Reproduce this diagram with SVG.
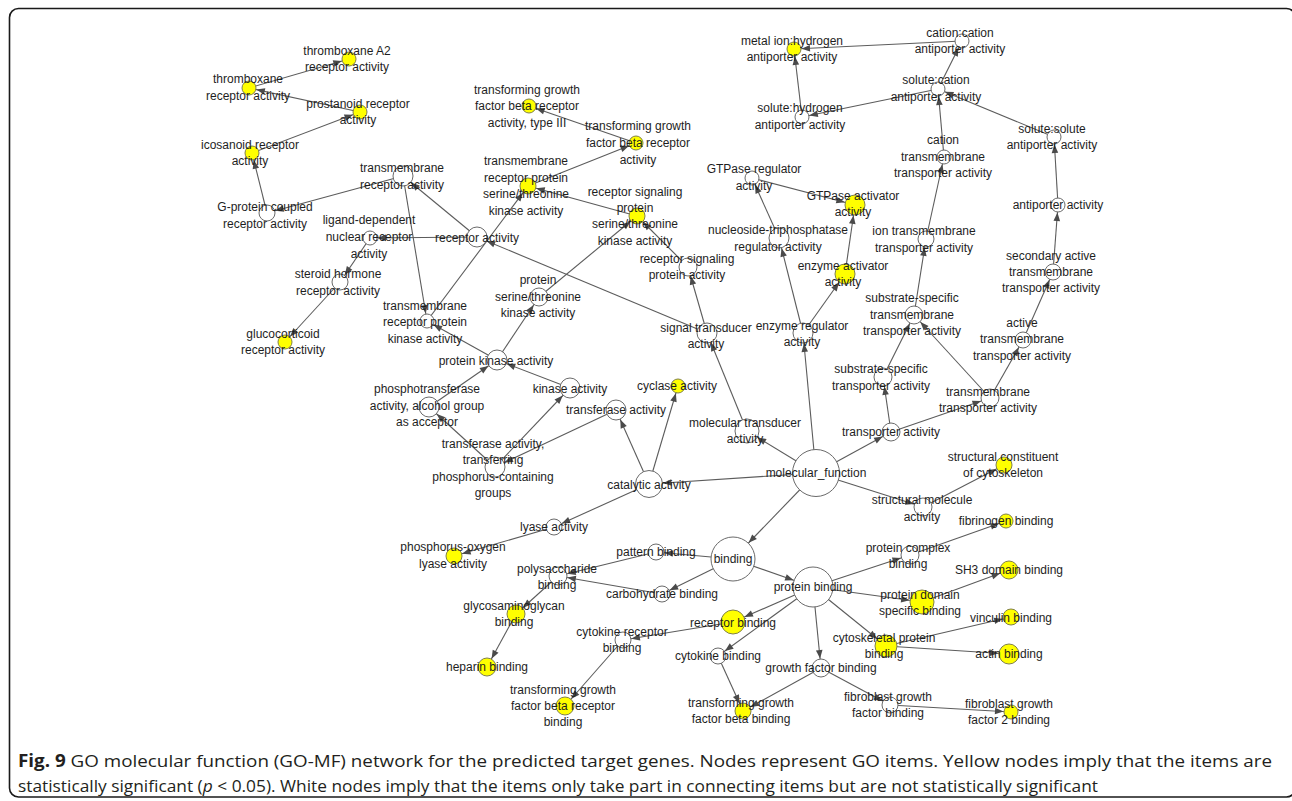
<svg xmlns="http://www.w3.org/2000/svg" xmlns:xlink="http://www.w3.org/1999/xlink" width="1292" height="801" viewBox="0 0 1292 801">
<style>
.e{stroke:#5c5c5c;stroke-width:1.1;fill:none}
.w{fill:#ffffff;stroke:#6a6a6a;stroke-width:1}
.y{fill:#ffff00;stroke:#80804a;stroke-width:1}
.t{font-family:"Liberation Sans",Arial,sans-serif;font-size:12px;fill:#1e1e1e;text-anchor:middle}
.ah{fill:#4a4a4a;stroke:none}
.cap{font-family:"Open Sans","Liberation Sans",sans-serif;font-size:17px;fill:#231f20}
</style>
<defs>
<path id="ah" class="ah" d="M0,0 L-8.5,-3.3 L-8.5,3.3 Z"/>
<marker id="m7" markerUnits="userSpaceOnUse" orient="auto" refX="7.5" refY="0" markerWidth="20" markerHeight="20" overflow="visible"><use xlink:href="#ah"/></marker>
<marker id="m8" markerUnits="userSpaceOnUse" orient="auto" refX="8.5" refY="0" markerWidth="20" markerHeight="20" overflow="visible"><use xlink:href="#ah"/></marker>
<marker id="m9" markerUnits="userSpaceOnUse" orient="auto" refX="9.5" refY="0" markerWidth="20" markerHeight="20" overflow="visible"><use xlink:href="#ah"/></marker>
<marker id="m10" markerUnits="userSpaceOnUse" orient="auto" refX="10.5" refY="0" markerWidth="20" markerHeight="20" overflow="visible"><use xlink:href="#ah"/></marker>
<marker id="m11" markerUnits="userSpaceOnUse" orient="auto" refX="11.5" refY="0" markerWidth="20" markerHeight="20" overflow="visible"><use xlink:href="#ah"/></marker>
<marker id="m12" markerUnits="userSpaceOnUse" orient="auto" refX="12.5" refY="0" markerWidth="20" markerHeight="20" overflow="visible"><use xlink:href="#ah"/></marker>
<marker id="m14" markerUnits="userSpaceOnUse" orient="auto" refX="14" refY="0" markerWidth="20" markerHeight="20" overflow="visible"><use xlink:href="#ah"/></marker>
<marker id="m20" markerUnits="userSpaceOnUse" orient="auto" refX="20.5" refY="0" markerWidth="20" markerHeight="20" overflow="visible"><use xlink:href="#ah"/></marker>
<marker id="m22" markerUnits="userSpaceOnUse" orient="auto" refX="22.5" refY="0" markerWidth="20" markerHeight="20" overflow="visible"><use xlink:href="#ah"/></marker>
</defs>
<rect x="9.5" y="8.5" width="1286" height="788.5" rx="9" fill="none" stroke="#1a1a1a" stroke-width="1.6"/>
<g id="connectors" class="e">
<line x1="249" y1="88" x2="349" y2="59" marker-end="url(#m7)"/>
<line x1="360" y1="112" x2="249" y2="88" marker-end="url(#m7)"/>
<line x1="252" y1="153" x2="360" y2="112" marker-end="url(#m7)"/>
<line x1="267" y1="213" x2="252" y2="153" marker-end="url(#m7)"/>
<line x1="403" y1="176" x2="267" y2="213" marker-end="url(#m8)"/>
<line x1="477" y1="237" x2="403" y2="176" marker-end="url(#m10)"/>
<line x1="477" y1="237" x2="370" y2="238" marker-end="url(#m7)"/>
<line x1="370" y1="238" x2="340" y2="282" marker-end="url(#m8)"/>
<line x1="340" y1="282" x2="285" y2="342" marker-end="url(#m7)"/>
<line x1="403" y1="176" x2="427" y2="321" marker-end="url(#m7)"/>
<line x1="427" y1="321" x2="528" y2="186" marker-end="url(#m8)"/>
<line x1="528" y1="186" x2="636" y2="143" marker-end="url(#m7)"/>
<line x1="636" y1="143" x2="529" y2="106" marker-end="url(#m7)"/>
<line x1="637" y1="216" x2="528" y2="186" marker-end="url(#m8)"/>
<line x1="539" y1="297" x2="637" y2="216" marker-end="url(#m8)"/>
<line x1="688" y1="267" x2="637" y2="216" marker-end="url(#m8)"/>
<line x1="707" y1="333" x2="688" y2="267" marker-end="url(#m9)"/>
<line x1="707" y1="333" x2="477" y2="237" marker-end="url(#m10)"/>
<line x1="497" y1="360" x2="539" y2="297" marker-end="url(#m9)"/>
<line x1="497" y1="360" x2="427" y2="321" marker-end="url(#m7)"/>
<line x1="429" y1="407" x2="497" y2="360" marker-end="url(#m10)"/>
<line x1="570" y1="388" x2="497" y2="360" marker-end="url(#m10)"/>
<line x1="495" y1="467" x2="429" y2="407" marker-end="url(#m10)"/>
<line x1="495" y1="467" x2="570" y2="388" marker-end="url(#m10)"/>
<line x1="616" y1="410" x2="495" y2="467" marker-end="url(#m10)"/>
<line x1="649" y1="484" x2="616" y2="410" marker-end="url(#m10)"/>
<line x1="649" y1="484" x2="678" y2="386" marker-end="url(#m7)"/>
<line x1="649" y1="484" x2="554" y2="527" marker-end="url(#m8)"/>
<line x1="554" y1="527" x2="454" y2="556" marker-end="url(#m8)"/>
<line x1="816" y1="473" x2="649" y2="484" marker-end="url(#m14)"/>
<line x1="816" y1="473" x2="747" y2="431" marker-end="url(#m12)"/>
<line x1="747" y1="431" x2="707" y2="333" marker-end="url(#m10)"/>
<line x1="816" y1="473" x2="803" y2="333" marker-end="url(#m10)"/>
<line x1="803" y1="333" x2="779" y2="238" marker-end="url(#m10)"/>
<line x1="779" y1="238" x2="752" y2="178" marker-end="url(#m7)"/>
<line x1="752" y1="178" x2="855" y2="205" marker-end="url(#m10)"/>
<line x1="803" y1="333" x2="845" y2="274" marker-end="url(#m10)"/>
<line x1="845" y1="274" x2="855" y2="205" marker-end="url(#m10)"/>
<line x1="816" y1="473" x2="891" y2="432" marker-end="url(#m9)"/>
<line x1="891" y1="432" x2="883" y2="377" marker-end="url(#m9)"/>
<line x1="891" y1="432" x2="990" y2="398" marker-end="url(#m9)"/>
<line x1="883" y1="377" x2="914" y2="315" marker-end="url(#m9)"/>
<line x1="990" y1="398" x2="914" y2="315" marker-end="url(#m9)"/>
<line x1="990" y1="398" x2="1023" y2="340" marker-end="url(#m8)"/>
<line x1="1023" y1="340" x2="1053" y2="272" marker-end="url(#m8)"/>
<line x1="1053" y1="272" x2="1058" y2="205" marker-end="url(#m7)"/>
<line x1="1058" y1="205" x2="1054" y2="137" marker-end="url(#m7)"/>
<line x1="1054" y1="137" x2="938" y2="89" marker-end="url(#m7)"/>
<line x1="914" y1="315" x2="926" y2="239" marker-end="url(#m8)"/>
<line x1="926" y1="239" x2="944" y2="157" marker-end="url(#m7)"/>
<line x1="944" y1="157" x2="938" y2="89" marker-end="url(#m7)"/>
<line x1="938" y1="89" x2="962" y2="41" marker-end="url(#m7)"/>
<line x1="938" y1="89" x2="802" y2="117" marker-end="url(#m7)"/>
<line x1="802" y1="117" x2="794" y2="49" marker-end="url(#m7)"/>
<line x1="962" y1="41" x2="794" y2="49" marker-end="url(#m7)"/>
<line x1="816" y1="473" x2="923" y2="507" marker-end="url(#m9)"/>
<line x1="923" y1="507" x2="1004" y2="465" marker-end="url(#m8)"/>
<line x1="816" y1="473" x2="733" y2="559" marker-end="url(#m22)"/>
<line x1="733" y1="559" x2="813" y2="587" marker-end="url(#m20)"/>
<line x1="733" y1="559" x2="656" y2="552" marker-end="url(#m8)"/>
<line x1="656" y1="552" x2="558" y2="576" marker-end="url(#m9)"/>
<line x1="733" y1="559" x2="662" y2="594" marker-end="url(#m8)"/>
<line x1="662" y1="594" x2="558" y2="576" marker-end="url(#m9)"/>
<line x1="558" y1="576" x2="516" y2="614" marker-end="url(#m9)"/>
<line x1="516" y1="614" x2="487" y2="667" marker-end="url(#m9)"/>
<line x1="813" y1="587" x2="733" y2="622" marker-end="url(#m12)"/>
<line x1="733" y1="622" x2="623" y2="640" marker-end="url(#m8)"/>
<line x1="623" y1="640" x2="565" y2="706" marker-end="url(#m9)"/>
<line x1="813" y1="587" x2="718" y2="656" marker-end="url(#m8)"/>
<line x1="718" y1="656" x2="743" y2="711" marker-end="url(#m8)"/>
<line x1="821" y1="668" x2="743" y2="711" marker-end="url(#m8)"/>
<line x1="813" y1="587" x2="821" y2="668" marker-end="url(#m9)"/>
<line x1="821" y1="668" x2="890" y2="705" marker-end="url(#m8)"/>
<line x1="890" y1="705" x2="1011" y2="712" marker-end="url(#m7)"/>
<line x1="813" y1="587" x2="910" y2="555" marker-end="url(#m9)"/>
<line x1="910" y1="555" x2="1006" y2="521" marker-end="url(#m7)"/>
<line x1="813" y1="587" x2="922" y2="602" marker-end="url(#m12)"/>
<line x1="922" y1="602" x2="1009" y2="570" marker-end="url(#m9)"/>
<line x1="813" y1="587" x2="886" y2="646" marker-end="url(#m11)"/>
<line x1="886" y1="646" x2="1011" y2="617" marker-end="url(#m8)"/>
<line x1="886" y1="646" x2="1009" y2="654" marker-end="url(#m10)"/>
</g>
<g id="n-thromboxane-a2"><circle class="y" cx="349" cy="59" r="7"/><text class="t"><tspan x="347" y="55">thromboxane A2</tspan><tspan x="347" y="71">receptor activity</tspan></text></g>
<g id="n-thromboxane"><circle class="y" cx="249" cy="88" r="7"/><text class="t"><tspan x="248" y="83">thromboxane</tspan><tspan x="248" y="100">receptor activity</tspan></text></g>
<g id="n-prostanoid"><circle class="y" cx="360" cy="112" r="7"/><text class="t"><tspan x="358" y="108">prostanoid receptor</tspan><tspan x="358" y="124">activity</tspan></text></g>
<g id="n-icosanoid"><circle class="y" cx="252" cy="153" r="7"/><text class="t"><tspan x="250" y="149">icosanoid receptor</tspan><tspan x="250" y="165">activity</tspan></text></g>
<g id="n-gpcr"><circle class="w" cx="267" cy="213" r="8"/><text class="t"><tspan x="265" y="211">G-protein coupled</tspan><tspan x="265" y="228">receptor activity</tspan></text></g>
<g id="n-tm-receptor"><circle class="w" cx="403" cy="176" r="10"/><text class="t"><tspan x="402" y="172">transmembrane</tspan><tspan x="402" y="189">receptor activity</tspan></text></g>
<g id="n-ligand-nuclear"><circle class="w" cx="370" cy="238" r="7"/><text class="t"><tspan x="369" y="224">ligand-dependent</tspan><tspan x="369" y="241">nuclear receptor</tspan><tspan x="369" y="258">activity</tspan></text></g>
<g id="n-steroid"><circle class="w" cx="340" cy="282" r="8"/><text class="t"><tspan x="338" y="278">steroid hormone</tspan><tspan x="338" y="295">receptor activity</tspan></text></g>
<g id="n-glucocorticoid"><circle class="y" cx="285" cy="342" r="7"/><text class="t"><tspan x="283" y="338">glucocorticoid</tspan><tspan x="283" y="354">receptor activity</tspan></text></g>
<g id="n-receptor"><circle class="w" cx="477" cy="237" r="10"/><text class="t"><tspan x="477" y="242">receptor activity</tspan></text></g>
<g id="n-trpk"><circle class="w" cx="427" cy="321" r="7"/><text class="t"><tspan x="425" y="310">transmembrane</tspan><tspan x="425" y="326">receptor protein</tspan><tspan x="425" y="343">kinase activity</tspan></text></g>
<g id="n-tgfbr3"><circle class="y" cx="529" cy="106" r="7"/><text class="t"><tspan x="527" y="94">transforming growth</tspan><tspan x="527" y="110">factor beta receptor</tspan><tspan x="527" y="127">activity, type III</tspan></text></g>
<g id="n-tgfbr"><circle class="y" cx="636" cy="143" r="7"/><text class="t"><tspan x="638" y="130">transforming growth</tspan><tspan x="638" y="147">factor beta receptor</tspan><tspan x="638" y="164">activity</tspan></text></g>
<g id="n-trpstk"><circle class="y" cx="528" cy="186" r="8"/><text class="t"><tspan x="526" y="165">transmembrane</tspan><tspan x="526" y="182">receptor protein</tspan><tspan x="526" y="198">serine/threonine</tspan><tspan x="526" y="215">kinase activity</tspan></text></g>
<g id="n-rspstk"><circle class="y" cx="637" cy="216" r="8"/><text class="t"><tspan x="635" y="196">receptor signaling</tspan><tspan x="635" y="212">protein</tspan><tspan x="635" y="228">serine/threonine</tspan><tspan x="635" y="245">kinase activity</tspan></text></g>
<g id="n-pstk"><circle class="w" cx="539" cy="297" r="9"/><text class="t"><tspan x="538" y="284">protein</tspan><tspan x="538" y="301">serine/threonine</tspan><tspan x="538" y="317">kinase activity</tspan></text></g>
<g id="n-pka"><circle class="w" cx="497" cy="360" r="10"/><text class="t"><tspan x="496" y="365">protein kinase activity</tspan></text></g>
<g id="n-rspa"><circle class="w" cx="688" cy="267" r="9"/><text class="t"><tspan x="687" y="263">receptor signaling</tspan><tspan x="687" y="279">protein activity</tspan></text></g>
<g id="n-signal-transducer"><circle class="w" cx="707" cy="333" r="10"/><text class="t"><tspan x="706" y="332">signal transducer</tspan><tspan x="706" y="348">activity</tspan></text></g>
<g id="n-gtpase-reg"><circle class="w" cx="752" cy="178" r="7"/><text class="t"><tspan x="754" y="173">GTPase regulator</tspan><tspan x="754" y="190">activity</tspan></text></g>
<g id="n-gtpase-act"><circle class="y" cx="855" cy="205" r="10"/><text class="t"><tspan x="853" y="200">GTPase activator</tspan><tspan x="853" y="216">activity</tspan></text></g>
<g id="n-ntpase-reg"><circle class="w" cx="779" cy="238" r="10"/><text class="t"><tspan x="778" y="234">nucleoside-triphosphatase</tspan><tspan x="778" y="251">regulator activity</tspan></text></g>
<g id="n-enzyme-act"><circle class="y" cx="845" cy="274" r="10"/><text class="t"><tspan x="843" y="270">enzyme activator</tspan><tspan x="843" y="286">activity</tspan></text></g>
<g id="n-enzyme-reg"><circle class="w" cx="803" cy="333" r="10"/><text class="t"><tspan x="802" y="330">enzyme regulator</tspan><tspan x="802" y="346">activity</tspan></text></g>
<g id="n-metal-h"><circle class="y" cx="794" cy="49" r="7"/><text class="t"><tspan x="792" y="45">metal ion:hydrogen</tspan><tspan x="792" y="61">antiporter activity</tspan></text></g>
<g id="n-cation-cation"><circle class="w" cx="962" cy="41" r="7"/><text class="t"><tspan x="960" y="37">cation:cation</tspan><tspan x="960" y="53">antiporter activity</tspan></text></g>
<g id="n-solute-cation"><circle class="w" cx="938" cy="89" r="7"/><text class="t"><tspan x="936" y="84">solute:cation</tspan><tspan x="936" y="101">antiporter activity</tspan></text></g>
<g id="n-solute-h"><circle class="w" cx="802" cy="117" r="7"/><text class="t"><tspan x="800" y="112">solute:hydrogen</tspan><tspan x="800" y="129">antiporter activity</tspan></text></g>
<g id="n-solute-solute"><circle class="w" cx="1054" cy="137" r="7"/><text class="t"><tspan x="1052" y="133">solute:solute</tspan><tspan x="1052" y="149">antiporter activity</tspan></text></g>
<g id="n-cation-tt"><circle class="w" cx="944" cy="157" r="7"/><text class="t"><tspan x="943" y="144">cation</tspan><tspan x="943" y="161">transmembrane</tspan><tspan x="943" y="177">transporter activity</tspan></text></g>
<g id="n-antiporter"><circle class="w" cx="1058" cy="205" r="7"/><text class="t"><tspan x="1058" y="209">antiporter activity</tspan></text></g>
<g id="n-ion-tt"><circle class="w" cx="926" cy="239" r="8"/><text class="t"><tspan x="924" y="235">ion transmembrane</tspan><tspan x="924" y="252">transporter activity</tspan></text></g>
<g id="n-secondary-tt"><circle class="w" cx="1053" cy="272" r="8"/><text class="t"><tspan x="1051" y="260">secondary active</tspan><tspan x="1051" y="276">transmembrane</tspan><tspan x="1051" y="292">transporter activity</tspan></text></g>
<g id="n-ss-tt"><circle class="w" cx="914" cy="315" r="9"/><text class="t"><tspan x="912" y="302">substrate-specific</tspan><tspan x="912" y="319">transmembrane</tspan><tspan x="912" y="335">transporter activity</tspan></text></g>
<g id="n-active-tt"><circle class="w" cx="1023" cy="340" r="8"/><text class="t"><tspan x="1022" y="327">active</tspan><tspan x="1022" y="343">transmembrane</tspan><tspan x="1022" y="360">transporter activity</tspan></text></g>
<g id="n-ss-t"><circle class="w" cx="883" cy="377" r="9"/><text class="t"><tspan x="881" y="373">substrate-specific</tspan><tspan x="881" y="390">transporter activity</tspan></text></g>
<g id="n-tm-t"><circle class="w" cx="990" cy="398" r="9"/><text class="t"><tspan x="988" y="396">transmembrane</tspan><tspan x="988" y="412">transporter activity</tspan></text></g>
<g id="n-transporter"><circle class="w" cx="891" cy="432" r="9"/><text class="t"><tspan x="891" y="436">transporter activity</tspan></text></g>
<g id="n-mol-transducer"><circle class="w" cx="747" cy="431" r="12"/><text class="t"><tspan x="745" y="427">molecular transducer</tspan><tspan x="745" y="443">activity</tspan></text></g>
<g id="n-molecular-function"><circle class="w" cx="816" cy="473" r="23.5"/><text class="t"><tspan x="816" y="477">molecular_function</tspan></text></g>
<g id="n-catalytic"><circle class="w" cx="649" cy="484" r="13.5"/><text class="t"><tspan x="649" y="489">catalytic activity</tspan></text></g>
<g id="n-cyclase"><circle class="y" cx="678" cy="386" r="7"/><text class="t"><tspan x="677" y="390">cyclase activity</tspan></text></g>
<g id="n-transferase"><circle class="w" cx="616" cy="410" r="10"/><text class="t"><tspan x="616" y="414">transferase activity</tspan></text></g>
<g id="n-kinase"><circle class="w" cx="570" cy="388" r="10"/><text class="t"><tspan x="570" y="393">kinase activity</tspan></text></g>
<g id="n-phospho-alcohol"><circle class="w" cx="429" cy="407" r="10"/><text class="t"><tspan x="427" y="393">phosphotransferase</tspan><tspan x="427" y="410">activity, alcohol group</tspan><tspan x="427" y="426">as acceptor</tspan></text></g>
<g id="n-transferase-p"><circle class="w" cx="495" cy="467" r="10"/><text class="t"><tspan x="493" y="448">transferase activity,</tspan><tspan x="493" y="464">transferring</tspan><tspan x="493" y="481">phosphorus-containing</tspan><tspan x="493" y="497">groups</tspan></text></g>
<g id="n-struct-const"><circle class="y" cx="1004" cy="465" r="8"/><text class="t"><tspan x="1003" y="461">structural constituent</tspan><tspan x="1003" y="477">of cytoskeleton</tspan></text></g>
<g id="n-struct-mol"><circle class="w" cx="923" cy="507" r="9"/><text class="t"><tspan x="922" y="504">structural molecule</tspan><tspan x="922" y="521">activity</tspan></text></g>
<g id="n-fibrinogen"><circle class="y" cx="1006" cy="521" r="7"/><text class="t"><tspan x="1006" y="525">fibrinogen binding</tspan></text></g>
<g id="n-lyase"><circle class="w" cx="554" cy="527" r="8"/><text class="t"><tspan x="554" y="531">lyase activity</tspan></text></g>
<g id="n-po-lyase"><circle class="y" cx="454" cy="556" r="8"/><text class="t"><tspan x="453" y="551">phosphorus-oxygen</tspan><tspan x="453" y="568">lyase activity</tspan></text></g>
<g id="n-pattern"><circle class="w" cx="656" cy="552" r="8"/><text class="t"><tspan x="656" y="556">pattern binding</tspan></text></g>
<g id="n-binding"><circle class="w" cx="733" cy="559" r="22"/><text class="t"><tspan x="733" y="563">binding</tspan></text></g>
<g id="n-polysaccharide"><circle class="w" cx="558" cy="576" r="9"/><text class="t"><tspan x="557" y="573">polysaccharide</tspan><tspan x="557" y="589">binding</tspan></text></g>
<g id="n-carbohydrate"><circle class="w" cx="662" cy="594" r="8"/><text class="t"><tspan x="662" y="598">carbohydrate binding</tspan></text></g>
<g id="n-protein-binding"><circle class="w" cx="813" cy="587" r="20"/><text class="t"><tspan x="813" y="591">protein binding</tspan></text></g>
<g id="n-gag"><circle class="y" cx="516" cy="614" r="9"/><text class="t"><tspan x="514" y="610">glycosaminoglycan</tspan><tspan x="514" y="626">binding</tspan></text></g>
<g id="n-heparin"><circle class="y" cx="487" cy="667" r="9"/><text class="t"><tspan x="487" y="671">heparin binding</tspan></text></g>
<g id="n-receptor-binding"><circle class="y" cx="733" cy="622" r="12"/><text class="t"><tspan x="733" y="627">receptor binding</tspan></text></g>
<g id="n-cytokine-receptor"><circle class="w" cx="623" cy="640" r="8"/><text class="t"><tspan x="622" y="636">cytokine receptor</tspan><tspan x="622" y="652">binding</tspan></text></g>
<g id="n-cytokine"><circle class="w" cx="718" cy="656" r="8"/><text class="t"><tspan x="718" y="660">cytokine binding</tspan></text></g>
<g id="n-growth-factor"><circle class="w" cx="821" cy="668" r="9"/><text class="t"><tspan x="821" y="672">growth factor binding</tspan></text></g>
<g id="n-tgfb-receptor-binding"><circle class="y" cx="565" cy="706" r="9"/><text class="t"><tspan x="563" y="694">transforming growth</tspan><tspan x="563" y="710">factor beta receptor</tspan><tspan x="563" y="726">binding</tspan></text></g>
<g id="n-tgfb-binding"><circle class="y" cx="743" cy="711" r="8"/><text class="t"><tspan x="741" y="707">transforming growth</tspan><tspan x="741" y="723">factor beta binding</tspan></text></g>
<g id="n-protein-complex"><circle class="w" cx="910" cy="555" r="9"/><text class="t"><tspan x="908" y="552">protein complex</tspan><tspan x="908" y="568">binding</tspan></text></g>
<g id="n-sh3"><circle class="y" cx="1009" cy="570" r="9"/><text class="t"><tspan x="1009" y="574">SH3 domain binding</tspan></text></g>
<g id="n-pdsb"><circle class="y" cx="922" cy="602" r="12"/><text class="t"><tspan x="920" y="599">protein domain</tspan><tspan x="920" y="615">specific binding</tspan></text></g>
<g id="n-vinculin"><circle class="y" cx="1011" cy="617" r="8"/><text class="t"><tspan x="1011" y="622">vinculin binding</tspan></text></g>
<g id="n-cytoskeletal"><circle class="y" cx="886" cy="646" r="11"/><text class="t"><tspan x="884" y="642">cytoskeletal protein</tspan><tspan x="884" y="658">binding</tspan></text></g>
<g id="n-actin"><circle class="y" cx="1009" cy="654" r="10"/><text class="t"><tspan x="1009" y="658">actin binding</tspan></text></g>
<g id="n-fgf"><circle class="w" cx="890" cy="705" r="8"/><text class="t"><tspan x="888" y="701">fibroblast growth</tspan><tspan x="888" y="717">factor binding</tspan></text></g>
<g id="n-fgf2"><circle class="y" cx="1011" cy="712" r="7"/><text class="t"><tspan x="1009" y="708">fibroblast growth</tspan><tspan x="1009" y="724">factor 2 binding</tspan></text></g>
<g id="caption">
<text class="cap" x="18" y="767" textLength="1254" lengthAdjust="spacingAndGlyphs"><tspan font-weight="bold">Fig. 9</tspan> GO molecular function (GO-MF) network for the predicted target genes. Nodes represent GO items. Yellow nodes imply that the items are</text>
<text class="cap" x="18" y="792" textLength="1080" lengthAdjust="spacingAndGlyphs">statistically significant (<tspan font-style="italic">p</tspan> &lt; 0.05). White nodes imply that the items only take part in connecting items but are not statistically significant</text>
</g>
</svg>
